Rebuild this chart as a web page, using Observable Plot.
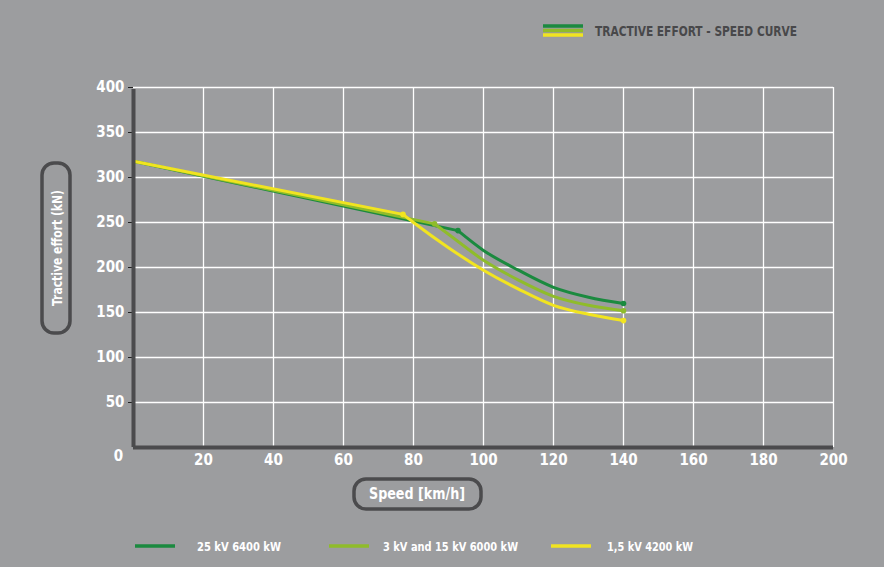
<!DOCTYPE html>
<html><head><meta charset="utf-8">
<script src="https://cdn.jsdelivr.net/npm/d3@7"></script>
<script src="https://cdn.jsdelivr.net/npm/@observablehq/plot@0.6"></script>
<style>
html,body{margin:0;padding:0;background:#9c9d9f;overflow:hidden;}
svg{display:block;}
</style></head><body><div id="chart"></div>
<script>
// ---- data ----
const seriesNames = ["25 kV 6400 kW", "3 kV and 15 kV 6000 kW", "1,5 kV 4200 kW"];
const seriesColors = ["#1b8a3f", "#8fbc2b", "#f1e420"];
// straight (constant-slope) part: start and knee
const kneeSpeed25 = [0, 92.7];
const kneeEffort25 = [318, 241];
const kneeSpeed3 = [0, 86];
const kneeEffort3 = [318, 248.5];
const kneeSpeed15 = [0, 77];
const kneeEffort15 = [318, 259];
// curved part: from knee to 140 km/h
const curveSpeed25 = [92.7, 100, 110, 120, 130, 140];
const curveEffort25 = [241, 219, 197, 178, 167, 160];
const curveSpeed3 = [86, 90, 100, 110, 120, 130, 140];
const curveEffort3 = [248.5, 237, 208, 186, 168, 158, 152];
const curveSpeed15 = [77, 80, 90, 100, 110, 120, 130, 140];
const curveEffort15 = [259, 250, 222, 197, 176, 158, 148, 141];
const xTicks = [20, 40, 60, 80, 100, 120, 140, 160, 180, 200];
const yTicks = [50, 100, 150, 200, 250, 300, 350, 400];
const title = "TRACTIVE EFFORT - SPEED CURVE";
const yLabel = "Tractive effort (kN)";
const xLabel = "Speed [km/h]";

// ---- build tables ----
const kneeSets = [[kneeSpeed25, kneeEffort25], [kneeSpeed3, kneeEffort3], [kneeSpeed15, kneeEffort15]];
const curveSets = [[curveSpeed25, curveEffort25], [curveSpeed3, curveEffort3], [curveSpeed15, curveEffort15]];
const straight = [], curved = [], dots = [];
kneeSets.forEach(([xs, ys], i) => xs.forEach((x, j) => straight.push({s: seriesNames[i], x, y: ys[j]})));
curveSets.forEach(([xs, ys], i) => xs.forEach((x, j) => curved.push({s: seriesNames[i], x, y: ys[j]})));
curveSets.forEach(([xs, ys], i) => {
  dots.push({s: seriesNames[i], x: xs[0], y: ys[0]});
  dots.push({s: seriesNames[i], x: xs[xs.length - 1], y: ys[ys.length - 1]});
});

const FONT = "'Liberation Sans Narrow', 'DejaVu Sans Condensed', 'DejaVu Sans', sans-serif";
const AX = "#4b4b4d";

const chart = Plot.plot({
  width: 884, height: 567,
  marginLeft: 133, marginRight: 51, marginTop: 87, marginBottom: 120,
  style: {background: "transparent", fontFamily: FONT, overflow: "visible"},
  x: {domain: [0, 200]},
  y: {domain: [0, 400]},
  color: {domain: seriesNames, range: seriesColors},
  marks: [
    Plot.gridX(xTicks, {stroke: "white", strokeOpacity: 1, strokeWidth: 1.3}),
    Plot.gridY(yTicks, {stroke: "white", strokeOpacity: 1, strokeWidth: 1.3}),
    Plot.axisY(yTicks, {tickSize: 5, tickPadding: 4, stroke: "#222", fill: "white", fontSize: 15, fontWeight: "bold", label: null}),
    Plot.axisX(xTicks, {tickSize: 0, tickPadding: 7, fill: "white", fontSize: 15, fontWeight: "bold", label: null}),
    Plot.text([0], {x: 0, y: 0, text: d => String(d), dx: -15, dy: 9, fill: "white", fontSize: 15, fontWeight: "bold"}),
    Plot.line(straight, {x: "x", y: "y", z: "s", stroke: "s", strokeWidth: 3, curve: "linear"}),
    Plot.line(curved, {x: "x", y: "y", z: "s", stroke: "s", strokeWidth: 3, curve: "monotone-x"}),
    Plot.dot(dots, {x: "x", y: "y", fill: "s", r: 2.8}),
    Plot.ruleX([0], {stroke: AX, strokeWidth: 4, y1: 0, y2: 400, insetBottom: -2}),
    Plot.ruleY([0], {stroke: AX, strokeWidth: 4})
  ]
});
document.getElementById("chart").appendChild(chart);

// ---- decorations: axis label boxes, legends ----
const svg = d3.select(chart);
const g = svg.append("g").attr("font-family", FONT).attr("font-weight", "bold").attr("text-anchor", "start");
// y label box
g.append("rect").attr("x", 42).attr("y", 163).attr("width", 28).attr("height", 170).attr("rx", 12)
  .attr("fill", "none").attr("stroke", AX).attr("stroke-width", 3.5);
g.append("text").attr("transform", "translate(57,248) rotate(-90)").attr("text-anchor", "middle")
  .attr("dominant-baseline", "central").attr("fill", "white").attr("font-size", 14)
  .attr("textLength", 116).attr("lengthAdjust", "spacingAndGlyphs").text(yLabel);
// x label box
g.append("rect").attr("x", 354).attr("y", 479).attr("width", 127).attr("height", 30).attr("rx", 12)
  .attr("fill", "none").attr("stroke", AX).attr("stroke-width", 3.5);
g.append("text").attr("x", 417).attr("y", 494).attr("text-anchor", "middle")
  .attr("dominant-baseline", "central").attr("fill", "white").attr("font-size", 15)
  .attr("textLength", 96).attr("lengthAdjust", "spacingAndGlyphs").text(xLabel);
// top legend
seriesColors.forEach((c, i) => {
  g.append("line").attr("x1", 543).attr("x2", 583).attr("y1", 26 + i * 4.5).attr("y2", 26 + i * 4.5)
    .attr("stroke", c).attr("stroke-width", 3.5);
});
g.append("text").attr("x", 595).attr("y", 30.5).attr("dominant-baseline", "central").attr("fill", "#48484a")
  .attr("font-size", 14).attr("textLength", 202).attr("lengthAdjust", "spacingAndGlyphs").text(title);
// bottom legend
const lgX = [135, 329, 551], lgT = [197, 383, 607], lgW = [84, 135, 86];
seriesNames.forEach((n, i) => {
  g.append("line").attr("x1", lgX[i]).attr("x2", lgX[i] + 40).attr("y1", 546).attr("y2", 546)
    .attr("stroke", seriesColors[i]).attr("stroke-width", 3.5);
  g.append("text").attr("x", lgT[i]).attr("y", 546).attr("dominant-baseline", "central").attr("fill", "white")
    .attr("font-size", 13).attr("textLength", lgW[i]).attr("lengthAdjust", "spacingAndGlyphs").text(n);
});
</script>
</body></html>
